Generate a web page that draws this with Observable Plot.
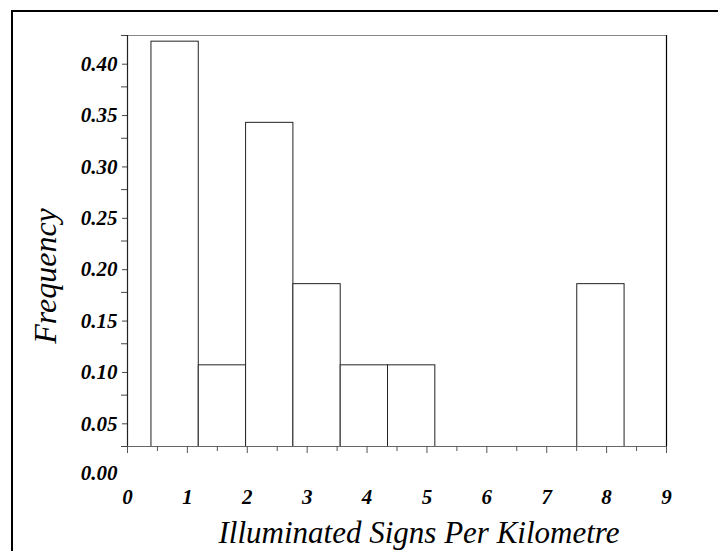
<!DOCTYPE html>
<html>
<head>
<meta charset="utf-8">
<script src="https://cdn.jsdelivr.net/npm/d3@7"></script>
<script src="https://cdn.jsdelivr.net/npm/@observablehq/plot@0.6"></script>
<style>
  html, body { margin: 0; padding: 0; background: #fff; overflow: hidden; }
  #wrap { position: relative; width: 718px; height: 551px; }
  #border { position: absolute; left: 11px; top: 10px; width: 800px; height: 700px;
            border-left: 2px solid #000; border-top: 2px solid #000; box-sizing: border-box; }
  #chart { position: absolute; left: 0; top: 0; }
</style>
</head>
<body>
<div id="wrap"><div id="border"></div><div id="chart"></div></div>
<script>
// Histogram bins
const binStart = [0.40, 1.19, 1.98, 2.77, 3.56, 4.35, 5.14, 5.93, 6.72, 7.51];
const binEnd   = [1.19, 1.98, 2.77, 3.56, 4.35, 5.14, 5.93, 6.72, 7.51, 8.30];
const frequency = [0.419, 0.104, 0.340, 0.183, 0.104, 0.104, 0, 0, 0, 0.183];

// Axis ticks
const xTicks = [0, 1, 2, 3, 4, 5, 6, 7, 8, 9];
const xMinorTicks = [0.5, 1.5, 2.5, 3.5, 4.5, 5.5, 6.5, 7.5, 8.5];
const yTicks = [0.05, 0.10, 0.15, 0.20, 0.25, 0.30, 0.35, 0.40];
const yMinorTicks = [0.025, 0.075, 0.125, 0.175, 0.225, 0.275, 0.325, 0.375, 0.425];
const yZeroLabel = ["0.00"];
const xDomain = [0, 9];
const yDomain = [0.025, 0.425];

const xTitle = "Illuminated Signs Per Kilometre";
const yTitle = "Frequency";

const bins = binStart.map((s, i) => ({x1: s, x2: binEnd[i], f: frequency[i]}));

const serif = "'Liberation Serif', 'Times New Roman', serif";
const tickFont = {fontFamily: serif, fontSize: 21, fontWeight: "bold", fontStyle: "italic", fill: "#000"};
const titleFont = {fontFamily: serif, fontStyle: "italic", fontWeight: "normal", fill: "#000"};

const chart = Plot.plot({
  width: 718,
  height: 551,
  marginLeft: 127,
  marginRight: 52,
  marginTop: 35,
  marginBottom: 105,
  style: {fontFamily: serif, background: "transparent", overflow: "visible"},
  x: {domain: xDomain, label: null},
  y: {domain: yDomain, label: null},
  marks: [
    Plot.rectY(bins, {x1: "x1", x2: "x2", y1: 0, y2: "f", fill: "white", stroke: "#222", strokeWidth: 1, inset: 0, clip: true}),
    Plot.ruleY([yDomain[1]], {stroke: "#888", strokeWidth: 1.2}),
    Plot.ruleY([yDomain[0]], {stroke: "#666", strokeWidth: 1.2}),
    Plot.ruleX([xDomain[1]], {stroke: "#000", strokeWidth: 1.2}),
    Plot.ruleX([xDomain[0]], {stroke: "#222", strokeWidth: 1.2}),
    Plot.axisY({ticks: yMinorTicks, tickSize: 6, tickFormat: () => "", stroke: "#444", label: null}),
    Plot.axisY({ticks: yTicks, tickSize: 5, tickPadding: 5, dy: 3, tickFormat: d => d.toFixed(2), stroke: "#444", label: null, ...tickFont}),
    Plot.axisX({ticks: xMinorTicks, tickSize: 5, tickFormat: () => "", stroke: "#555", label: null}),
    Plot.axisX({ticks: xTicks, tickSize: 7, tickPadding: 36, tickFormat: d => String(d), stroke: "#555", label: null, ...tickFont}),
    Plot.text(yZeroLabel, {x: xDomain[0], y: 0, text: d => d, textAnchor: "end", dx: -10, dy: 1, clip: false, ...tickFont}),
    Plot.text([yTitle], {frameAnchor: "left", text: d => d, rotate: -90, textAnchor: "middle", lineAnchor: "middle", dx: -82, dy: 35, fontSize: 32, ...titleFont}),
    Plot.text([xTitle], {frameAnchor: "bottom", text: d => d, textAnchor: "middle", lineAnchor: "middle", dx: 22, dy: 87, fontSize: 31, ...titleFont})
  ]
});
document.getElementById("chart").appendChild(chart);
</script>
</body>
</html>
